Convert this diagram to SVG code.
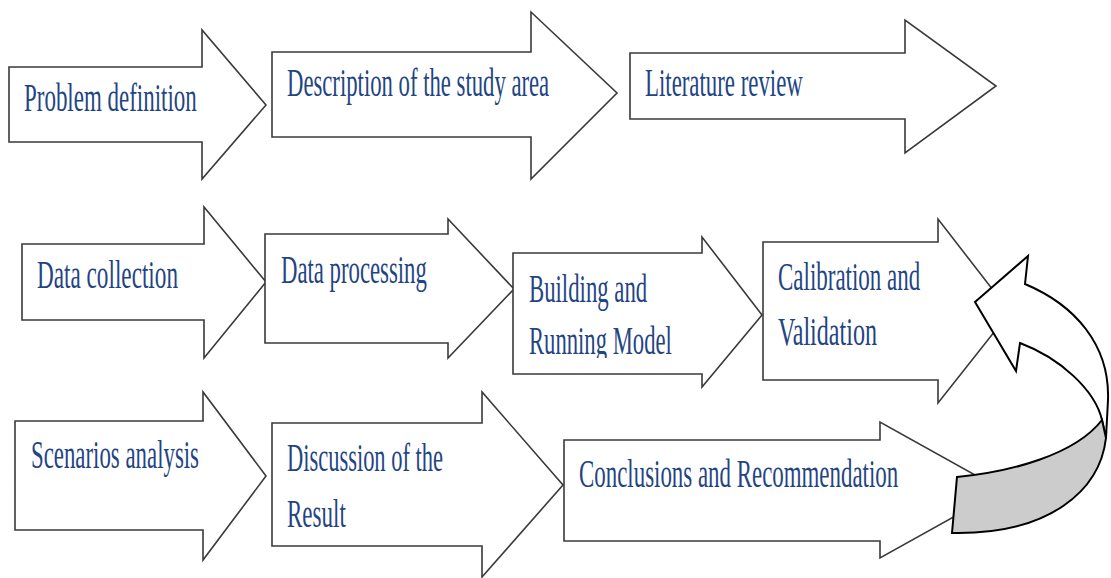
<svg xmlns="http://www.w3.org/2000/svg" width="1111" height="578" viewBox="0 0 1111 578">
  <style>
    .box { fill: #ffffff; stroke: #3a3a3a; stroke-width: 1.6; stroke-linejoin: miter; }
    .lbl { font-family: "Liberation Serif", "Times New Roman", serif; font-size: 40px; fill: #1f4584; }
    .loop { fill: #ffffff; stroke: #000000; stroke-width: 2; stroke-linejoin: miter; }
    .loop-back { fill: #cccccc; stroke: #000000; stroke-width: 2; }
  </style>
  <defs>
    <clipPath id="clip-building">
      <rect x="514" y="250" width="200" height="108"/>
    </clipPath>
  </defs>
  <rect width="1111" height="578" fill="#ffffff"/>

  <!-- Row 1 -->
  <g id="problem-definition">
    <polygon class="box" points="9,67 202,67 202,30 266,105 202,179 202,142 9,142"/>
    <text class="lbl" transform="translate(24,111) scale(0.6,1)" textLength="288" lengthAdjust="spacingAndGlyphs">Problem definition</text>
  </g>
  <g id="study-area">
    <polygon class="box" points="272,52 531,52 531,12 617,93 531,179 531,137 272,137"/>
    <text class="lbl" transform="translate(287,96) scale(0.6,1)" textLength="437" lengthAdjust="spacingAndGlyphs">Description of the study area</text>
  </g>
  <g id="literature-review">
    <polygon class="box" points="630,53 905,53 905,20 996,86 905,153 905,119 630,119"/>
    <text class="lbl" transform="translate(645,96) scale(0.6,1)" textLength="263" lengthAdjust="spacingAndGlyphs">Literature review</text>
  </g>

  <!-- Row 2 -->
  <g id="data-collection">
    <polygon class="box" points="22,244 204,244 204,207 266,282 204,358 204,320 22,320"/>
    <text class="lbl" transform="translate(37,288) scale(0.6,1)" textLength="235" lengthAdjust="spacingAndGlyphs">Data collection</text>
  </g>
  <g id="data-processing">
    <polygon class="box" points="265,234 448,234 448,219 514,289 448,358 448,343 265,343"/>
    <text class="lbl" transform="translate(281,283) scale(0.6,1)" textLength="243" lengthAdjust="spacingAndGlyphs">Data processing</text>
  </g>
  <g id="building-model">
    <polygon class="box" points="513,253 702,253 702,237 762,315 702,387 702,374 513,374"/>
    <text class="lbl" transform="translate(529,302) scale(0.6,1)" textLength="197" lengthAdjust="spacingAndGlyphs">Building and</text>
    <g clip-path="url(#clip-building)">
      <text class="lbl" transform="translate(529,354) scale(0.6,1)" textLength="238" lengthAdjust="spacingAndGlyphs">Running Model</text>
    </g>
  </g>
  <g id="calibration-validation">
    <polygon class="box" points="763,242 938,242 938,219 1010,312 938,403 938,380 763,380"/>
    <text class="lbl" transform="translate(778,290) scale(0.6,1)" textLength="237" lengthAdjust="spacingAndGlyphs">Calibration and</text>
    <text class="lbl" transform="translate(778,345) scale(0.6,1)" textLength="165" lengthAdjust="spacingAndGlyphs">Validation</text>
  </g>

  <!-- Row 3 -->
  <g id="scenarios-analysis">
    <polygon class="box" points="15,421 203,421 203,392 266,476 203,560 203,530 15,530"/>
    <text class="lbl" transform="translate(31,468) scale(0.6,1)" textLength="280" lengthAdjust="spacingAndGlyphs">Scenarios analysis</text>
  </g>
  <g id="discussion-result">
    <polygon class="box" points="272,423 482,423 482,392 563,485 482,577 482,546 272,546"/>
    <text class="lbl" transform="translate(287,471) scale(0.6,1)" textLength="260" lengthAdjust="spacingAndGlyphs">Discussion of the</text>
    <text class="lbl" transform="translate(287,527) scale(0.6,1)" textLength="98" lengthAdjust="spacingAndGlyphs">Result</text>
  </g>
  <g id="conclusions">
    <polygon class="box" points="564,440 880,440 880,422 1002,490 880,558 880,541 564,541"/>
    <text class="lbl" transform="translate(579,487) scale(0.6,1)" textLength="532" lengthAdjust="spacingAndGlyphs">Conclusions and Recommendation</text>
  </g>

  <!-- Connectors: curved loop-back arrow -->
  <g id="connectors">
    <path class="loop" d="M975,302 L1028,256 L1025,284 C1075,305 1110,345 1108,400 L1106,438 L1102,420 C1095,390 1060,358 1020,343 L1016,371 Z"/>
    <path class="loop-back" d="M957,477 C1010,472 1075,455 1102,420 L1106,438 C1100,490 1050,535 952,533 Z"/>
  </g>
</svg>
